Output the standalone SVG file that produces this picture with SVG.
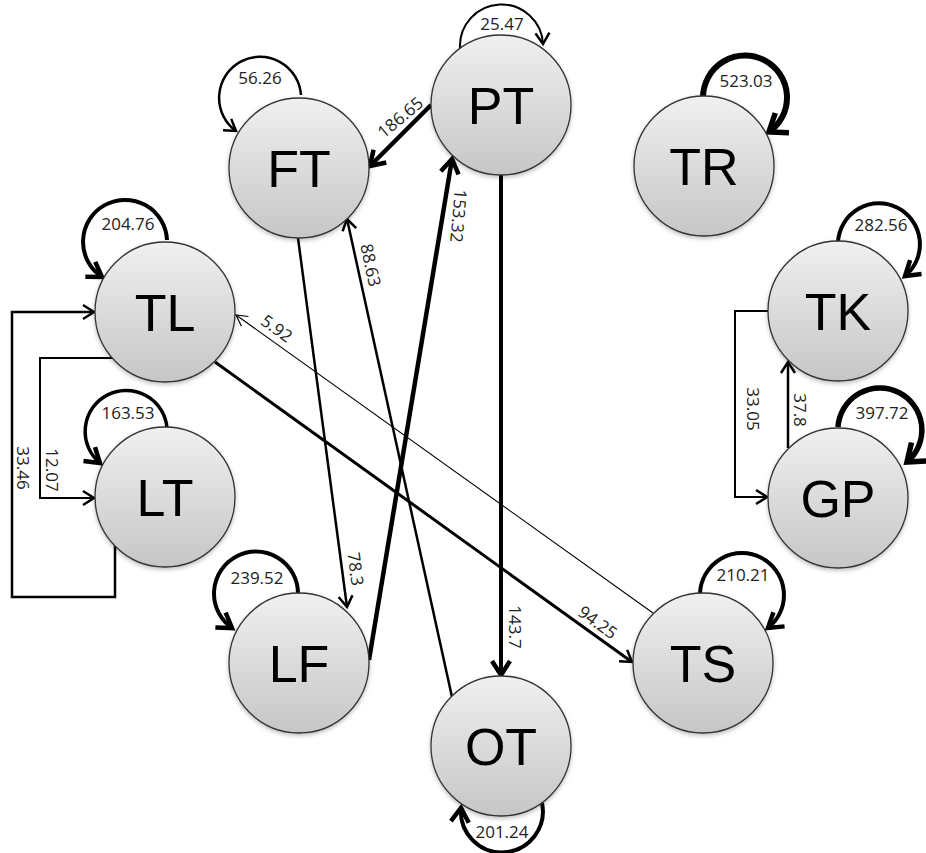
<svg xmlns="http://www.w3.org/2000/svg" width="926" height="853" viewBox="0 0 926 853">
<style>
.node circle{fill:url(#g);stroke:#333;stroke-width:1.3;filter:url(#sh)}
.node text{font-family:"Liberation Sans",Arial,sans-serif;font-size:52px;fill:#000;text-anchor:middle}
.e{fill:none;stroke:#000}
.lbl{font-family:"Open Sans","Liberation Sans",sans-serif;font-size:17px;fill:#222;text-anchor:middle}
.rl{dominant-baseline:central}
</style>
<defs>
<linearGradient id="g" x1="0" y1="0" x2="0" y2="1">
<stop offset="0" stop-color="#f0f0f0"/>
<stop offset="1" stop-color="#c6c6c6"/>
</linearGradient>
<filter id="sh" x="-20%" y="-20%" width="140%" height="150%">
<feDropShadow dx="0" dy="2" stdDeviation="2" flood-color="#000" flood-opacity="0.25"/>
</filter>
<marker id="a1" markerUnits="userSpaceOnUse" viewBox="-14 -10 18 20" markerWidth="18" markerHeight="20" refX="0" refY="0" orient="auto" overflow="visible">
<path d="M-11,-6 L0,0 L-11,6" fill="none" stroke="#000" stroke-width="1.2"/>
</marker>
<marker id="a2" markerUnits="userSpaceOnUse" viewBox="-14 -10 18 20" markerWidth="18" markerHeight="20" refX="0" refY="0" orient="auto" overflow="visible">
<path d="M-11,-7 L0,0 L-11,7" fill="none" stroke="#000" stroke-width="2.5"/>
</marker>
<marker id="a3" markerUnits="userSpaceOnUse" viewBox="-18 -12 22 24" markerWidth="22" markerHeight="24" refX="0" refY="0" orient="auto" overflow="visible">
<path d="M-14,-9 L0,0 L-14,9" fill="none" stroke="#000" stroke-width="4.5"/>
</marker>
<marker id="a4" markerUnits="userSpaceOnUse" viewBox="-20 -14 24 28" markerWidth="24" markerHeight="28" refX="0" refY="0" orient="auto" overflow="visible">
<path d="M-16,-12 L0,0 L-16,12" fill="none" stroke="#000" stroke-width="5.5"/>
</marker>
</defs>
<rect width="926" height="853" fill="#fff"/>

<g id="connectors">
<!-- self loops -->
<path class="e" d="M460,48 A41,41 0 0 1 543,44" stroke-width="2" marker-end="url(#a2)"/>
<path class="e" d="M301,95 A41,41 0 1 0 236,131" stroke-width="2.5" marker-end="url(#a2)"/>
<path class="e" d="M703,97 A42,42 0 1 1 769,132" stroke-width="6" marker-end="url(#a4)"/>
<path class="e" d="M838,242 A41,41 0 1 1 905,276" stroke-width="4" marker-end="url(#a3)"/>
<path class="e" d="M838,427 A42,42 0 1 1 907,462" stroke-width="5.5" marker-end="url(#a4)"/>
<path class="e" d="M167,240 A42,42 0 1 0 102,277" stroke-width="4" marker-end="url(#a3)"/>
<path class="e" d="M167,428 A41,41 0 1 0 100,463" stroke-width="3.5" marker-end="url(#a3)"/>
<path class="e" d="M298,593 A42,42 0 1 0 232,628" stroke-width="4" marker-end="url(#a3)"/>
<path class="e" d="M700,593 A42,42 0 1 1 768,628" stroke-width="4" marker-end="url(#a3)"/>
<path class="e" d="M542,803 A41,41 0 1 1 461,808" stroke-width="4" marker-end="url(#a3)"/>
<!-- edges -->
<path class="e" d="M431,105 L370,166" stroke-width="4.5" marker-end="url(#a3)"/>
<path class="e" d="M369,660 L452,159" stroke-width="4.5" marker-end="url(#a3)"/>
<path class="e" d="M501,175 L501,675" stroke-width="4" marker-end="url(#a3)"/>
<path class="e" d="M298,238 L347,607" stroke-width="2.5" marker-end="url(#a2)"/>
<path class="e" d="M452,697 L347,219" stroke-width="2.5" marker-end="url(#a2)"/>
<path class="e" d="M215,362 L632,662" stroke-width="3" marker-end="url(#a2)"/>
<path class="e" d="M653,613 L236,315" stroke-width="1.1" marker-end="url(#a1)"/>
<path class="e" d="M115,358 H40 V498 H94" stroke-width="2" marker-end="url(#a2)"/>
<path class="e" d="M115,545 V597 H12 V312 H94" stroke-width="2.5" marker-end="url(#a2)"/>
<path class="e" d="M768,311 H735 V497 H767" stroke-width="2" marker-end="url(#a2)"/>
<path class="e" d="M788,448 V362" stroke-width="2.5" marker-end="url(#a2)"/>
</g>

<g id="labels">
<text class="lbl" x="502" y="30">25.47</text>
<text class="lbl" x="260" y="84">56.26</text>
<text class="lbl" x="746" y="87">523.03</text>
<text class="lbl" x="881" y="231">282.56</text>
<text class="lbl" x="882" y="419">397.72</text>
<text class="lbl" x="128" y="230">204.76</text>
<text class="lbl" x="128" y="419">163.53</text>
<text class="lbl" x="257" y="584">239.52</text>
<text class="lbl" x="743" y="581">210.21</text>
<text class="lbl" x="502" y="838">201.24</text>
<text class="lbl rl" transform="translate(400,117) rotate(-40)">186.65</text>
<text class="lbl rl" transform="translate(459,216) rotate(95)">153.32</text>
<text class="lbl rl" transform="translate(515,627) rotate(90)">143.7</text>
<text class="lbl rl" transform="translate(371,265) rotate(78)">88.63</text>
<text class="lbl rl" transform="translate(356,569) rotate(83)">78.3</text>
<text class="lbl rl" transform="translate(598,622) rotate(36)">94.25</text>
<text class="lbl rl" transform="translate(277,328) rotate(36)">5.92</text>
<text class="lbl rl" transform="translate(52,470) rotate(90)">12.07</text>
<text class="lbl rl" transform="translate(23,468) rotate(90)">33.46</text>
<text class="lbl rl" transform="translate(753,409) rotate(90)">33.05</text>
<text class="lbl rl" transform="translate(800,410) rotate(90)">37.8</text>
</g>

<g id="PT" class="node"><circle cx="501" cy="105" r="70"/><text x="501" y="124">PT</text></g>
<g id="FT" class="node"><circle cx="299" cy="168" r="70"/><text x="299" y="187">FT</text></g>
<g id="TR" class="node"><circle cx="704" cy="166" r="70"/><text x="704" y="185">TR</text></g>
<g id="TL" class="node"><circle cx="165" cy="312" r="70"/><text x="165" y="331">TL</text></g>
<g id="LT" class="node"><circle cx="165" cy="497" r="70"/><text x="165" y="516">LT</text></g>
<g id="TK" class="node"><circle cx="838" cy="311" r="70"/><text x="838" y="330">TK</text></g>
<g id="GP" class="node"><circle cx="838" cy="498" r="70"/><text x="838" y="517">GP</text></g>
<g id="LF" class="node"><circle cx="299" cy="663" r="70"/><text x="299" y="682">LF</text></g>
<g id="TS" class="node"><circle cx="703" cy="663" r="70"/><text x="703" y="682">TS</text></g>
<g id="OT" class="node"><circle cx="501" cy="746" r="70"/><text x="501" y="765">OT</text></g>
</svg>
